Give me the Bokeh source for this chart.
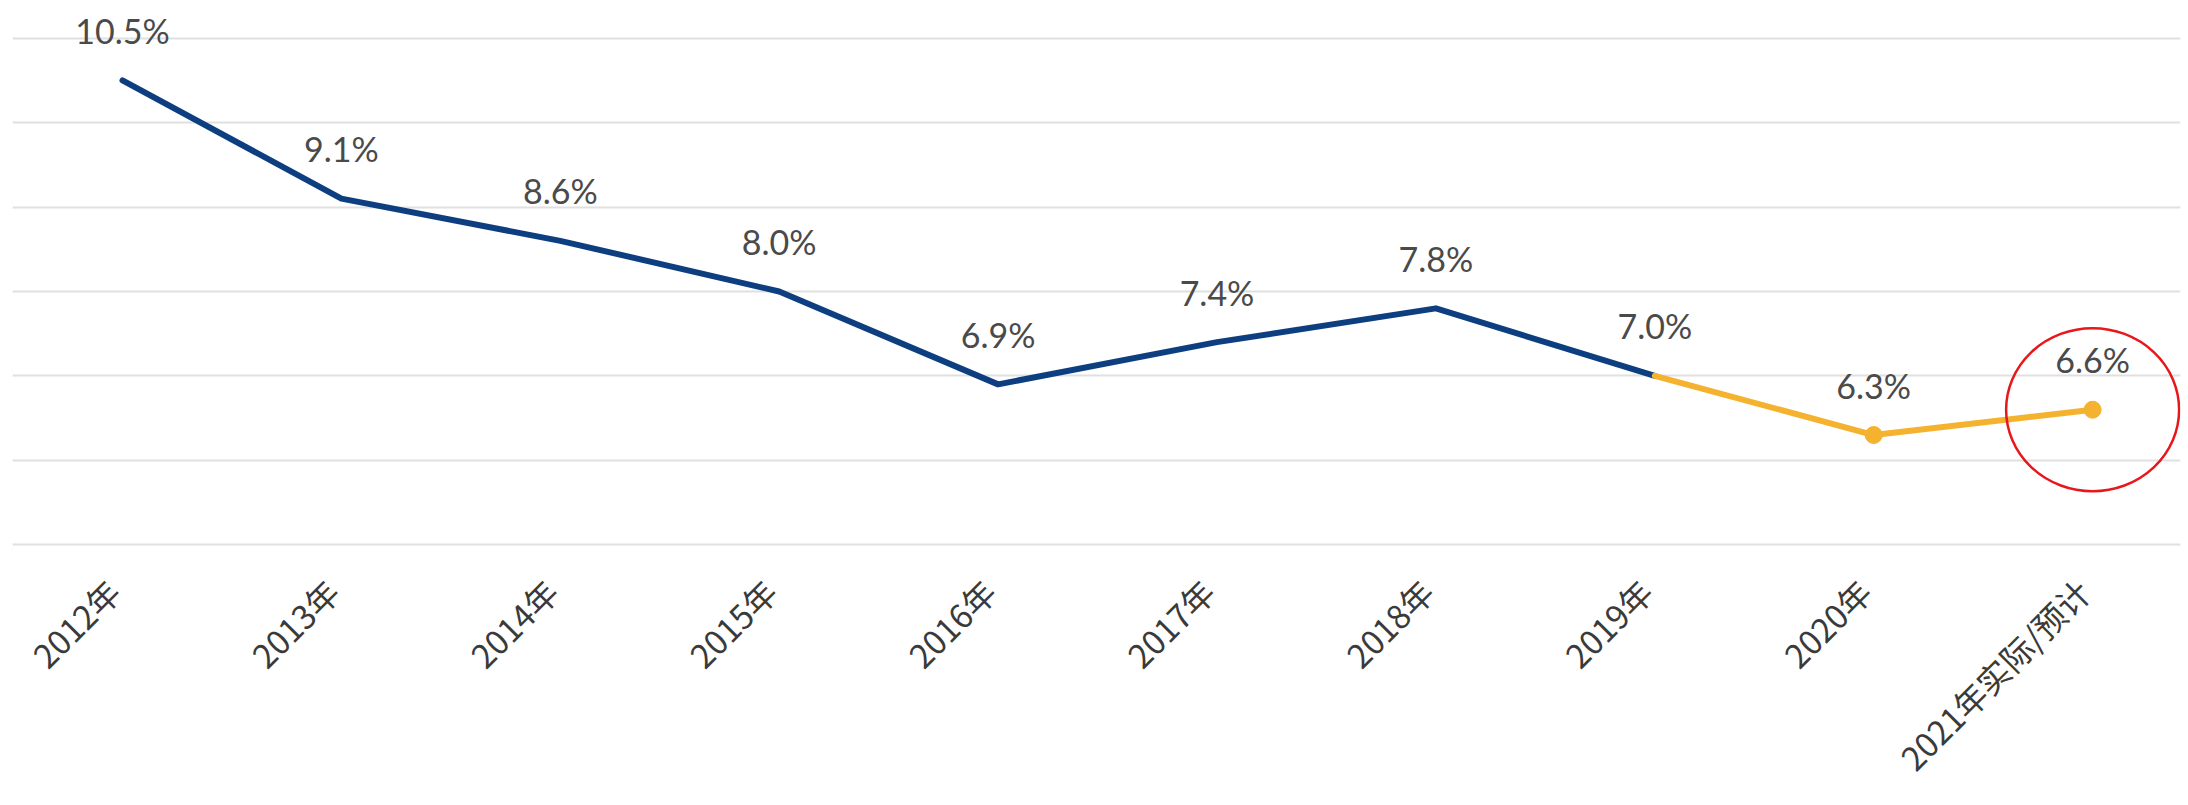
import math
from bokeh.plotting import figure
from bokeh.models import FixedTicker, Range1d, ColumnDataSource, LinearAxis
from bokeh.core.properties import value
from bokeh.embed import file_html
from bokeh.resources import INLINE

years = ["2012年", "2013年", "2014年", "2015年", "2016年", "2017年", "2018年", "2019年", "2020年", "2021年实际/预计"]
growth = [10.5, 9.1, 8.6, 8.0, 6.9, 7.4, 7.8, 7.0, 6.3, 6.6]
labels = ["10.5%", "9.1%", "8.6%", "8.0%", "6.9%", "7.4%", "7.8%", "7.0%", "6.3%", "6.6%"]
y_ticks = [5, 6, 7, 8, 9, 10, 11]

xs = list(range(len(years)))
BLUE = "#0d3f80"
ORANGE = "#f4b22f"

X0, X1 = -0.5025, 9.4015
p = figure(width=2184, height=800, output_backend="svg", toolbar_location=None,
           x_range=Range1d(X0, X1), y_range=Range1d(4.98, 11.446),
           x_axis_location=None, y_axis_location=None,
           min_border_left=12, min_border_right=4, min_border_top=0, min_border_bottom=253)
p.outline_line_color = None
p.background_fill_color = "white"
p.border_fill_color = "white"

p.xgrid.visible = False
p.ygrid.ticker = FixedTicker(ticks=y_ticks)
p.ygrid.grid_line_color = "#e0e0e0"
p.ygrid.grid_line_width = 2

# category axis; its range is nudged so the rotated labels end at each point
shift = 0.041
p.extra_x_ranges = {"lab": Range1d(X0 + shift, X1 + shift)}
ax = LinearAxis(x_range_name="lab", ticker=FixedTicker(ticks=xs))
ax.major_label_overrides = {i: y for i, y in enumerate(years)}
ax.major_label_orientation = math.pi / 4
ax.axis_line_color = None
ax.major_tick_line_color = None
ax.minor_tick_line_color = None
ax.major_label_text_font = "Noto Sans CJK SC"
ax.major_label_text_font_size = "33px"
ax.major_label_text_color = "#3a3a3a"
ax.major_label_standoff = 33
p.add_layout(ax, "below")

# blue actual series through 2019
p.line(xs[:8], growth[:8], line_color=BLUE, line_width=6, line_cap="round", line_join="round")
# orange recent segment
p.line(xs[7:], growth[7:], line_color=ORANGE, line_width=6, line_cap="round", line_join="round")
p.scatter(xs[8:], growth[8:], size=17, fill_color=ORANGE, line_color=ORANGE)

src = ColumnDataSource(dict(x=xs, y=growth, t=labels))
p.text(x="x", y="y", text="t", source=src, text_align="center", text_baseline="alphabetic",
       y_offset=-50, text_font=value("Lato"), text_font_size="34px", text_color="#4a4a4a")

# red highlight circle around latest value
p.ellipse(x=[xs[9]], y=[growth[9]], width=173, height=163, width_units="screen", height_units="screen",
          fill_color=None, line_color="#e8171b", line_width=2.5)

open("out.html", "w").write(file_html(p, INLINE))
